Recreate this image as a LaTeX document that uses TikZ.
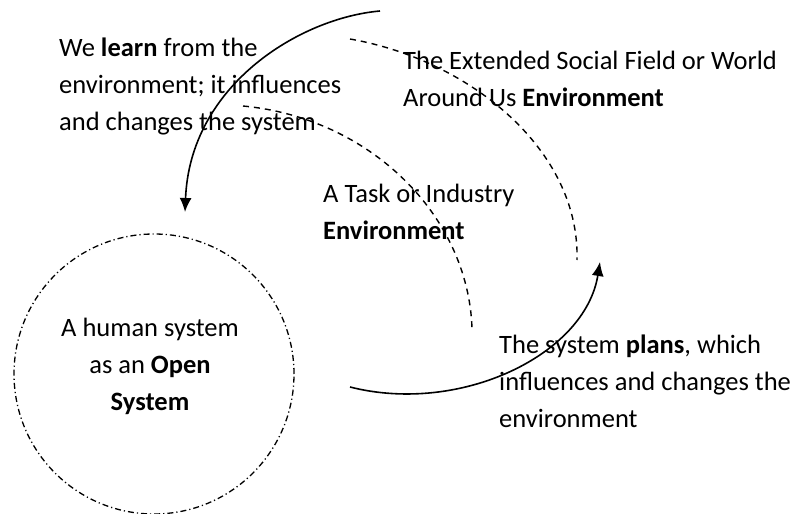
\documentclass[tikz,border=0pt]{standalone}
\usepackage{fontspec}
\setmainfont{Carlito}
\usetikzlibrary{arrows.meta}

\begin{document}
\begin{tikzpicture}[x=1pt,y=-1pt,
    txt/.style={inner sep=0pt,font=\fontsize{26.5}{37}\selectfont},
    flow/.style={line width=1.6pt,-{Latex[length=14pt,width=12pt]}},
    field/.style={line width=1.4pt,dash pattern=on 6pt off 5pt},
    rim/.style={draw,circle,minimum size=280pt,line width=1.3pt,
        dash pattern=on 6pt off 3pt on 1.2pt off 3pt}]
    \useasboundingbox (0,0) rectangle (796,514);

    % multi-line nodes sit on the baseline of their last line
    \node[txt,align=left,anchor=base west]  (learn) at (59,130)
        {We \textbf{learn} from the\\environment; it influences\\and changes the system};
    \node[txt,align=left,anchor=base west]  (world) at (403,106)
        {The Extended Social Field or World\\Around Us \textbf{Environment}};
    \node[txt,align=left,anchor=base west]  (task)  at (323,239)
        {A Task or Industry\\\textbf{Environment}};
    \node[rim] (system) at (154,374) {};
    \node[txt,align=center,anchor=base] (open) at (150,410)
        {A human system\\as an \textbf{Open}\\\textbf{System}};
    \node[txt,align=left,anchor=base west]  (plans) at (499,427)
        {The system \textbf{plans}, which\\influences and changes the\\environment};

    \coordinate (l0) at (380,11);
    \coordinate (l1) at (185,212);
    \coordinate (p0) at (350,387);
    \coordinate (p1) at (600,262);
    \coordinate (w0) at (350,39);
    \coordinate (w1) at (577,260);
    \coordinate (t0) at (243,106);
    \coordinate (t1) at (472,328);

    \draw[flow]  (l0) .. controls (300,18) and (190,85) .. (l1);
    \draw[flow]  (p0) .. controls (460,415) and (585,355) .. (p1);
    \draw[field] (w0) .. controls (470,60) and (580,150) .. (w1);
    \draw[field] (t0) .. controls (370,118) and (468,215) .. (t1);

\end{tikzpicture}
\end{document}
